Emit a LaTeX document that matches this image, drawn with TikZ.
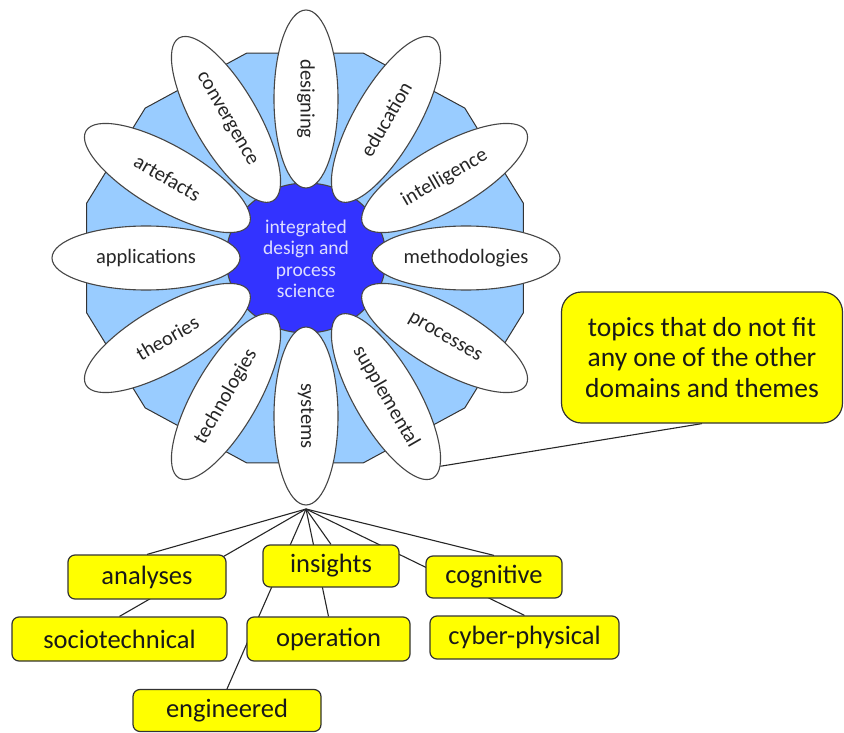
\documentclass[tikz,border=0pt]{standalone}
\usepackage{fontspec}
\setmainfont{Carlito}
\usetikzlibrary{shapes.geometric,calc}
\pgfdeclarelayer{bg}
\pgfsetlayers{bg,main}
\definecolor{polyblue}{RGB}{153,204,255}
\definecolor{coreblue}{RGB}{51,51,255}
\definecolor{corefont}{RGB}{222,222,255}
\definecolor{boxyellow}{RGB}{255,255,0}
\definecolor{edgegray}{RGB}{70,70,70}
\begin{document}
\begin{tikzpicture}[x=1pt,y=-1pt,
  petal/.style={ellipse, draw=edgegray, line width=1.1pt, fill=white, inner sep=0pt,
    minimum width=188pt, minimum height=64pt, font=\fontsize{20.5}{22}\selectfont, text=black!85},
  vpetal/.style={petal, minimum width=178pt},
  ybox/.style={draw=black!80, line width=1.2pt, fill=boxyellow, rounded corners=7pt,
    inner sep=0pt, font=\fontsize{26.5}{30}\selectfont, text=black!90},
  link/.style={draw=black!85, line width=1.1pt}]
\useasboundingbox (0,0) rectangle (844,733);

% background twelve-sided polygon
\draw[fill=polyblue, draw=black!80, line width=1pt]
  (523.3,203.1) -- (464.8,108.1) -- (363.5,53.2) -- (246.5,53.2) -- (145.2,108.1) -- (86.7,203.1)
  -- (86.7,312.9) -- (145.2,407.9) -- (246.5,462.8) -- (363.5,462.8) -- (464.8,407.9) -- (523.3,312.9) -- cycle;

% core
\node[ellipse, draw=edgegray, line width=1.1pt, fill=coreblue, minimum width=160pt, minimum height=150pt, inner sep=0pt] (core) at (306,258) {};

% diagonal petals
\node[petal, rotate=60]  (education)    at (386,119.4) {education};
\node[petal, rotate=30]  (intelligence) at (444.6,178) {intelligence};
\node[petal, rotate=-30] (processes)    at (444.6,338) {processes};
\node[petal, rotate=-60] (supplemental) at (386,396.6) {supplemental};
\node[petal, rotate=60]  (technologies) at (226,396.6) {technologies};
\node[petal, rotate=30]  (theories)     at (167.4,338) {theories};
\node[petal, rotate=-30] (artefacts)    at (167.4,178) {artefacts};
\node[petal, rotate=-60] (convergence)  at (226,119.4) {convergence};
% cardinal petals
\node[vpetal, rotate=-90] (designing)     at (306,99) {designing};
\node[petal]              (methodologies) at (466,258) {methodologies};
\node[vpetal, rotate=-90] (systems)       at (306,416) {systems};
\node[petal]              (applications)  at (146,258) {applications};

% core text
\node[align=center, text=corefont, font=\fontsize{19.5}{21.5}\selectfont, inner sep=0pt] (coretext) at (306,259)
  {integrated\\design and\\process\\science};

% yellow boxes
\node[ybox, minimum width=158pt, minimum height=44pt] (analyses) at (147,577) {analyses};
\node[ybox, minimum width=215pt, minimum height=44pt] (sociotechnical) at (119.5,639) {sociotechnical};
\node[ybox, minimum width=188pt, minimum height=42pt] (engineered) at (227,710.5) {engineered};
\node[ybox, minimum width=163pt, minimum height=44pt] (operation) at (328.5,639) {operation};
\node[ybox, minimum width=136pt, minimum height=42pt] (insights) at (331,566) {insights};
\node[ybox, minimum width=136pt, minimum height=42pt] (cognitive) at (494,577) {cognitive};
\node[ybox, minimum width=189pt, minimum height=43pt] (cyberphysical) at (524.5,637.5) {cyber-physical};
\node[ybox, rounded corners=20pt, minimum width=281pt, minimum height=131pt, align=center,
  font=\fontsize{27.5}{30.5}\selectfont] (topics) at (702,357.5)
  {topics that do not fit\\any one of the other\\domains and themes};

\coordinate (fan) at (306,509);

\begin{pgfonlayer}{bg}
\draw[link] (fan) -- (analyses.north);
\draw[link] (fan) -- (sociotechnical.north);
\draw[link] (fan) -- (engineered.north);
\draw[link] (fan) -- (operation.north);
\draw[link] (fan) -- (insights.north);
\draw[link] (fan) -- (cyberphysical.north);
\draw[link] (fan) -- (cognitive.north);
\draw[link] (supplemental.8) -- (topics.south);
\end{pgfonlayer}
\end{tikzpicture}
\end{document}
